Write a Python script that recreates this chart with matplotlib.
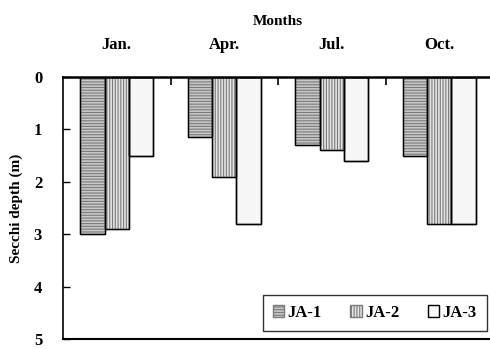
import numpy as np
import matplotlib.pyplot as plt

plt.rcParams['font.family'] = ['Liberation Serif', 'DejaVu Serif']
plt.rcParams['font.weight'] = 'bold'
plt.rcParams['hatch.linewidth'] = 0.8

months = ['Jan.', 'Apr.', 'Jul.', 'Oct.']
ja1 = [3.0, 1.15, 1.3, 1.5]
ja2 = [2.9, 1.9, 1.4, 2.8]
ja3 = [1.5, 2.8, 1.6, 2.8]

fig = plt.figure(figsize=(4.9, 3.49), dpi=100)
ax = fig.add_axes([63/490, 10/349, 430/490, 262/349])

x = np.arange(len(months)) + 0.5
w = 0.225
ax.bar(x - w, ja1, w, facecolor='#c8c8c8', edgecolor='#7a7a7a', hatch='------',
       linewidth=1.0, label='JA-1')
ax.bar(x, ja2, w, facecolor='#e4e4e4', edgecolor='#7a7a7a', hatch='||||||',
       linewidth=1.0, label='JA-2')
ax.bar(x + w, ja3, w, facecolor='#f7f7f7', edgecolor='black',
       linewidth=1.0, label='JA-3')

# black outlines on top of the grey hatched bars
for bars in ax.containers:
    for b in bars:
        ax.add_patch(plt.Rectangle(b.get_xy(), b.get_width(), b.get_height(),
                                   fill=False, edgecolor='black', linewidth=1.0))

ax.set_xlim(0, 4)
ax.set_ylim(5, 0)

ax.xaxis.tick_top()
ax.set_xticks(x)
ax.set_xticklabels(months, fontsize=12, fontweight='bold')
ax.tick_params(axis='x', which='major', length=0, pad=17)
ax.set_xticks([1, 2, 3], minor=True)
ax.tick_params(axis='x', which='minor', direction='in', length=6, width=1.2,
               top=True, bottom=False)
ax.set_xlabel('Months', fontsize=11, fontweight='bold', labelpad=9)
ax.xaxis.set_label_position('top')

ax.set_yticks(range(6))
ax.set_yticklabels([str(i) for i in range(6)], fontsize=12, fontweight='bold')
ax.tick_params(axis='y', direction='in', length=5, width=1.0, pad=15)
ax.set_ylabel('Secchi depth (m)', fontsize=11, fontweight='bold', labelpad=8)

ax.spines['right'].set_visible(False)
ax.spines['top'].set_linewidth(1.8)
ax.spines['left'].set_linewidth(1.2)
ax.spines['bottom'].set_linewidth(1.5)

leg = ax.legend(loc='lower right', bbox_to_anchor=(487/490, 18/349),
                bbox_transform=fig.transFigure, ncol=3, fontsize=12,
                frameon=True, fancybox=False, edgecolor='black',
                handlelength=0.7, handleheight=0.7, handletextpad=0.2,
                columnspacing=1.7, borderpad=0.6, borderaxespad=0)
leg.get_frame().set_linewidth(1.0)

fig.savefig('out.png', dpi=100)
